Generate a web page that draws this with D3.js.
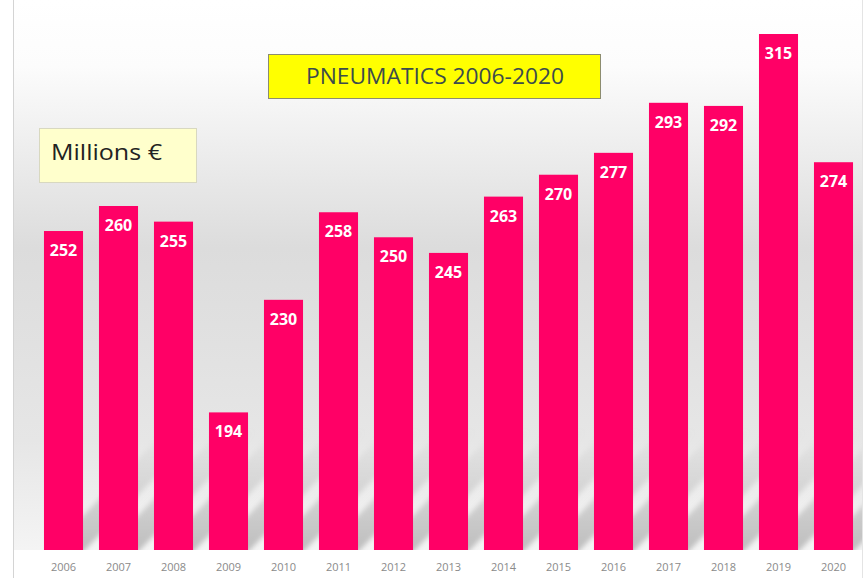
<!DOCTYPE html>
<html>
<head>
<meta charset="utf-8">
<script src="https://cdn.jsdelivr.net/npm/d3@7"></script>
<style>
  body { margin: 0; background: #fff; }
</style>
</head>
<body>
<svg id="chart" width="866" height="578"></svg>
<script>
const years = ["2006","2007","2008","2009","2010","2011","2012","2013","2014","2015","2016","2017","2018","2019","2020"];
const sales = [252, 260, 255, 194, 230, 258, 250, 245, 263, 270, 277, 293, 292, 315, 274];
const title = "PNEUMATICS 2006-2020";
const unitLabel = "Millions €";

const width = 866, height = 578;
const baseY = 550;

const svg = d3.select("#chart")
    .style("font-family", "'Open Sans', sans-serif");

const defs = svg.append("defs");

// background fade
const bg = defs.append("linearGradient").attr("id", "bg")
    .attr("x1", 0).attr("y1", 0).attr("x2", 0).attr("y2", 1);
bg.append("stop").attr("offset", "0%").attr("stop-color", "#ffffff");
bg.append("stop").attr("offset", "12%").attr("stop-color", "#fcfcfc");
bg.append("stop").attr("offset", "45%").attr("stop-color", "#dcdcdc");
bg.append("stop").attr("offset", "80%").attr("stop-color", "#e6e6e6");
bg.append("stop").attr("offset", "100%").attr("stop-color", "#f4f4f4");

// shadow fade
const sh = defs.append("linearGradient").attr("id", "shadow")
    .attr("gradientUnits", "userSpaceOnUse")
    .attr("x1", 0).attr("y1", baseY).attr("x2", 0).attr("y2", baseY - 120);
sh.append("stop").attr("offset", "0%").attr("stop-color", "#b0b0b0").attr("stop-opacity", 0.8);
sh.append("stop").attr("offset", "100%").attr("stop-color", "#b0b0b0").attr("stop-opacity", 0);

defs.append("filter").attr("id", "soft")
    .attr("x", "-20%").attr("y", "-20%").attr("width", "140%").attr("height", "140%")
  .append("feGaussianBlur").attr("stdDeviation", 2.5);

defs.append("clipPath").attr("id", "plotClip")
  .append("rect").attr("x", 14).attr("y", 0).attr("width", 848).attr("height", baseY);

svg.append("rect")
    .attr("x", 14).attr("y", 0)
    .attr("width", 848).attr("height", baseY)
    .attr("fill", "url(#bg)");

// frame lines
svg.append("line").attr("x1", 13.5).attr("x2", 13.5).attr("y1", 0).attr("y2", height)
    .attr("stroke", "#d4d4d4");
svg.append("line").attr("x1", 862.5).attr("x2", 862.5).attr("y1", 0).attr("y2", height)
    .attr("stroke", "#e4e4e4");

const x = d3.scaleBand()
    .domain(years)
    .range([36, 861])
    .paddingInner(0.29)
    .paddingOuter(0.145);

const y = d3.scaleLinear()
    .domain([150, 315])
    .range([baseY, 34]);

// diagonal shadows behind the bars
const L = 120;
svg.append("g").attr("clip-path", "url(#plotClip)")
  .append("g").attr("filter", "url(#soft)")
  .selectAll("path")
  .data(years)
  .join("path")
    .attr("d", d => {
      const x0 = x(d) + 2, x1 = x(d) + x.bandwidth() - 2;
      return `M${x0},${baseY + 4}L${x1},${baseY + 4}L${x1 + L},${baseY - L}L${x0 + L},${baseY - L}Z`;
    })
    .attr("fill", "url(#shadow)");

// bars
svg.append("g")
  .selectAll("rect")
  .data(sales)
  .join("rect")
    .attr("x", (d, i) => x(years[i]))
    .attr("y", d => y(d))
    .attr("width", x.bandwidth())
    .attr("height", d => baseY - y(d))
    .attr("fill", "#ff0066");

// value labels
svg.append("g")
  .selectAll("text")
  .data(sales)
  .join("text")
    .attr("x", (d, i) => x(years[i]) + x.bandwidth() / 2)
    .attr("y", d => y(d) + 25)
    .attr("text-anchor", "middle")
    .attr("fill", "#fff")
    .attr("font-weight", 700)
    .attr("font-size", 16)
    .text(d => d);

// year axis
const xAxis = svg.append("g")
    .attr("transform", `translate(0,${baseY})`)
    .call(d3.axisBottom(x).tickSize(0).tickPadding(13));
xAxis.select(".domain").remove();
xAxis.selectAll("text")
    .attr("fill", "#8a8a8a")
    .attr("font-size", 11)
    .attr("font-family", "'Open Sans', sans-serif");

// title box
svg.append("rect")
    .attr("x", 268.5).attr("y", 54.5)
    .attr("width", 332).attr("height", 44)
    .attr("fill", "#ffff00")
    .attr("stroke", "#8c8c70");
svg.append("text")
    .attr("x", 435).attr("y", 84)
    .attr("text-anchor", "middle")
    .attr("font-size", 21)
    .attr("textLength", 258)
    .attr("lengthAdjust", "spacingAndGlyphs")
    .attr("fill", "#3c4c4c")
    .text(title);

// unit box
svg.append("rect")
    .attr("x", 39.5).attr("y", 128.5)
    .attr("width", 157).attr("height", 54)
    .attr("fill", "#ffffcc")
    .attr("stroke", "#d8d8c0");
svg.append("text")
    .attr("x", 51).attr("y", 160)
    .attr("font-size", 22)
    .attr("textLength", 111)
    .attr("lengthAdjust", "spacingAndGlyphs")
    .attr("fill", "#222")
    .text(unitLabel);
</script>
</body>
</html>
